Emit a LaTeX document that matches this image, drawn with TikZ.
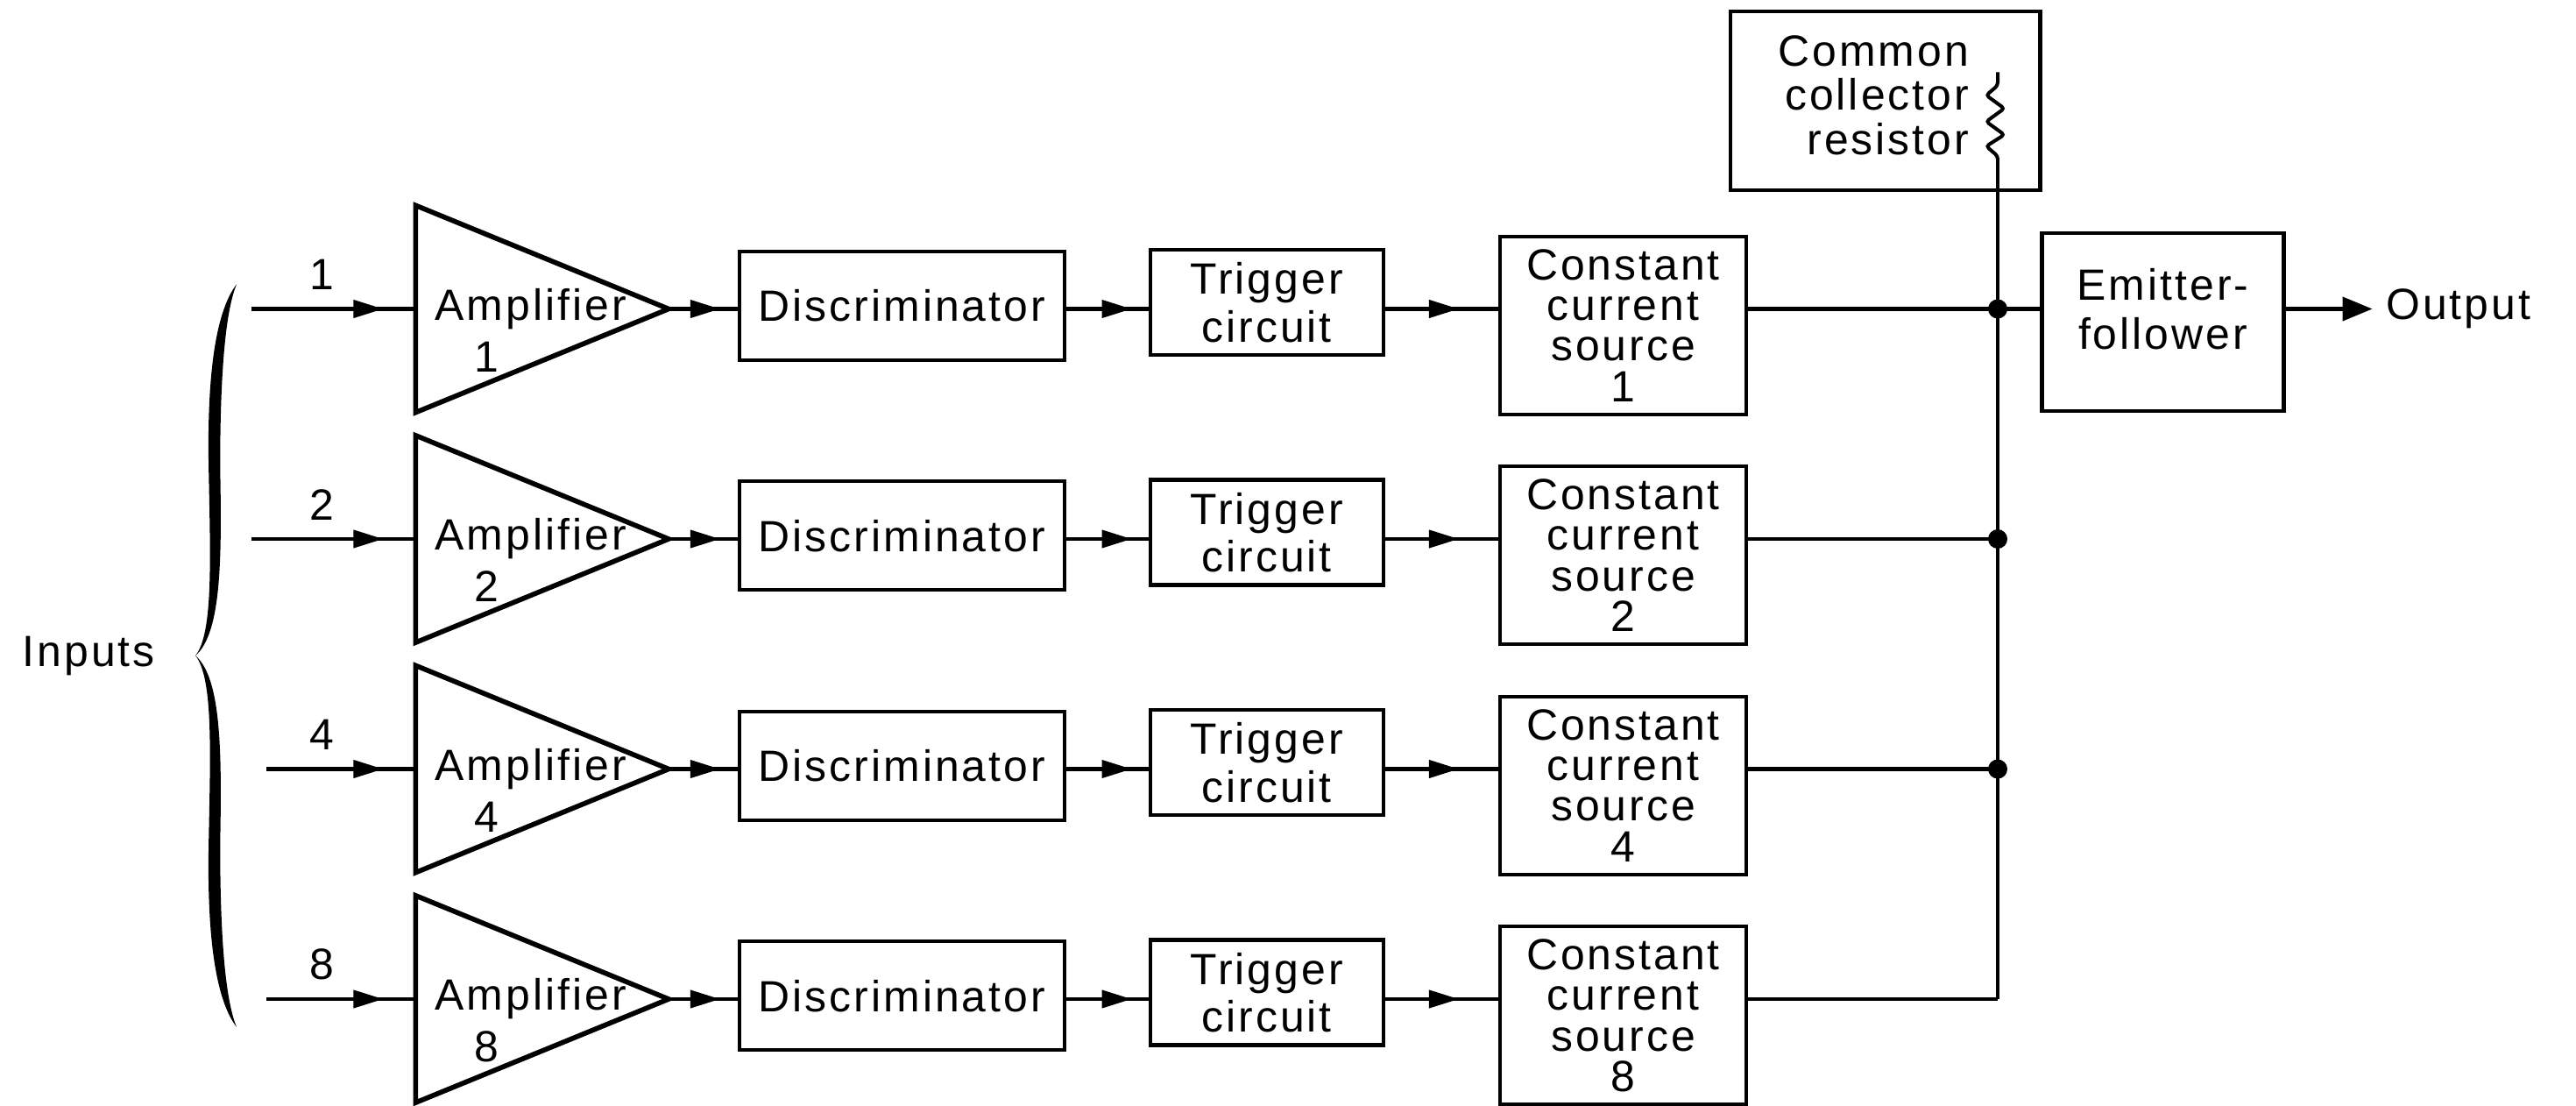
\documentclass[tikz,border=0pt]{standalone}
\usepackage{fontspec}
\setmainfont{Liberation Sans}[LetterSpace=6]
\usetikzlibrary{arrows.meta,decorations.markings,positioning}

\tikzset{
  blk/.style={draw, line width=1.2pt, inner sep=0pt, align=center},
  wire/.style={line width=1.15pt},
  outarrow/.style={-{Triangle[length=0.34cm,width=0.27cm]}},
  midarrow/.style={postaction={decorate}, decoration={markings,
      mark=at position -#1 with {\arrow{Triangle[length=0.34cm,width=0.2cm]}}}},
}

\begin{document}
\begin{tikzpicture}[x=0.01875cm, y=-0.01875cm,
    every node/.style={font=\fontsize{14.2}{13.2}\selectfont}]
  \useasboundingbox (0,0) rectangle (1568,673);

  % the four input channels
  \foreach \n/\y/\xs in {1/188/153, 2/328/153, 4/468/162, 8/608/162} {
    % input wire and its weight
    \coordinate (in\n) at (\xs,\y);
    \node (num\n) at (196,\y-21) {\n};

    % amplifier triangle
    \coordinate (amp\n-in) at (253,\y);
    \coordinate (amp\n-out) at (407,\y);
    \draw[line width=1.6pt] (253,\y-63) -- (amp\n-out) -- (253,\y+63) -- cycle;
    \node (ampl\n) at (323,\y) {Amplifier};
    \node (ampn\n) at (296,\y+29) {\n};

    % the boxes of the channel
    \node[blk, minimum width=3.71cm, minimum height=1.24cm] (disc\n) at (549,\y-2) {Discriminator};
    \node[blk, minimum width=2.66cm, minimum height=1.2cm,
          font=\fontsize{14.2}{15.5}\selectfont] (trig\n) at (771,\y-4) {Trigger\\circuit};
    \node[blk, minimum width=2.81cm, minimum height=2.03cm] (ccs\n) at (988,\y+10) {Constant\\current\\source\\\n};
    \coordinate (jn\n) at (1216,\y);

    % wires between them
    \draw[wire, midarrow=0.37cm] (in\n) -- (amp\n-in);
    \draw[wire, midarrow=0.2cm] (amp\n-out) -- (amp\n-out -| disc\n.west);
    \draw[wire, midarrow=0.19cm] (disc\n.east |- jn\n) -- (jn\n -| trig\n.west);
    \draw[wire, midarrow=0.45cm] (trig\n.east |- jn\n) -- (jn\n -| ccs\n.west);
    \draw[wire] (ccs\n.east |- jn\n) -- (jn\n);
  }

  % brace and label of the inputs
  \node (inputs) at (54,399) {Inputs};
  \begin{scope}[shift={(119,399)}]
    \foreach \s in {1,-1}
      \fill[yscale=\s] (25,-226) .. controls (12,-209) and (7,-170) .. (8,-115)
        .. controls (9,-60) and (11,-14) .. (0,0)
        .. controls (16,-14) and (16,-60) .. (15,-115)
        .. controls (15,-170) and (18,-209) .. (25,-226) -- cycle;
  \end{scope}

  % common collector resistor
  \node[blk, minimum width=3.54cm, minimum height=2.04cm] (ccr) at (1147.5,61.5) {};
  \node[anchor=east, align=right, font=\fontsize{14.2}{14.3}\selectfont]
    (ccrtxt) at (1205,58) {Common\\collector\\resistor};
  \coordinate (res-top) at (1216,44);
  \coordinate (res-bot) at (1216,97);
  \draw[wire, rounded corners=1pt] (res-top) -- ++(0,8) -- ++(-7,6) -- ++(11,8)
    -- ++(-11,8) -- ++(11,8) -- ++(-11,7) -- ++(7,6) -- (res-bot);

  % common bus and junctions
  \draw[wire] (res-bot) -- (jn8);
  \foreach \n in {1,2,4}
    \fill (jn\n) circle (0.11cm);

  % emitter follower and output
  \node[blk, minimum width=2.76cm, minimum height=2.03cm] (ef) at (1316.5,196) {};
  \node[align=center, font=\fontsize{14.2}{16}\selectfont] (eftxt) at (1316.5,188) {Emitter-\\follower};
  \draw[wire] (jn1) -- (jn1 -| ef.west);
  \node[anchor=west, inner xsep=0.15cm] (out) at (1444,188) {Output};
  \draw[wire, outarrow] (ef.east |- jn1) -- (out.west);
\end{tikzpicture}
\end{document}
